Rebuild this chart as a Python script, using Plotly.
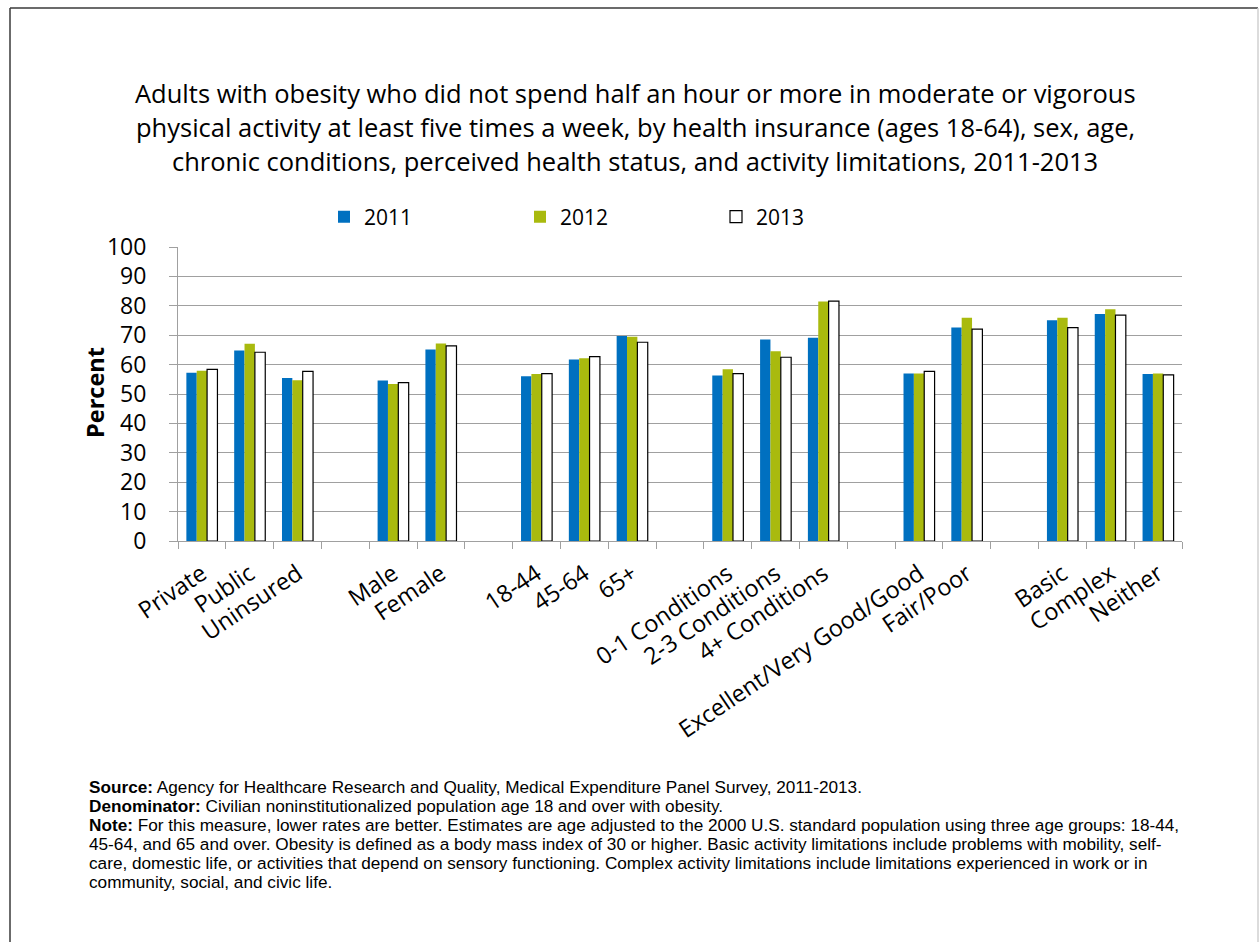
import plotly.graph_objects as go

# ---- data -------------------------------------------------------------
insurance = ["Private", "Public", "Uninsured"]
sex = ["Male", "Female"]
age = ["18-44", "45-64", "65+"]
conditions = ["0-1 Conditions", "2-3 Conditions", "4+ Conditions"]
health = ["Excellent/Very Good/Good", "Fair/Poor"]
limitations = ["Basic", "Complex", "Neither"]

years = ["2011", "2012", "2013"]
pct_2011 = [57.2, 64.8, 55.4, 54.6, 65.1, 56.0, 61.7, 69.7, 56.3, 68.5, 69.1, 57.0, 72.6, 75.1, 77.2, 56.8]
pct_2012 = [57.9, 67.1, 54.7, 53.4, 67.2, 56.8, 62.2, 69.5, 58.4, 64.5, 81.5, 57.0, 75.9, 75.9, 78.8, 57.0]
pct_2013 = [58.4, 64.2, 57.7, 53.9, 66.4, 56.9, 62.7, 67.6, 56.9, 62.5, 81.6, 57.7, 72.1, 72.6, 76.8, 56.5]

title_lines = [
    "Adults with obesity who did not spend half an hour or more in moderate or vigorous",
    "physical activity at least five times a week, by health insurance (ages 18-64), sex, age,",
    "chronic conditions, perceived health status, and activity limitations, 2011-2013",
]
footnotes = [
    "<b>Source:</b> Agency for Healthcare Research and Quality, Medical Expenditure Panel Survey, 2011-2013.",
    "<b>Denominator:</b> Civilian noninstitutionalized population age 18 and over with obesity.",
    "<b>Note:</b> For this measure, lower rates are better. Estimates are age adjusted to the 2000 U.S. standard population using three age groups: 18-44,",
    "45-64, and 65 and over. Obesity is defined as a body mass index of 30 or higher. Basic activity limitations include problems with mobility, self-",
    "care, domestic life, or activities that depend on sensory functioning. Complex activity limitations include limitations experienced in work or in",
    "community, social, and civic life.",
]

# ---- category axis with empty slots between groups ---------------------
groups = [insurance, sex, age, conditions, health, limitations]
categories = []
for i, g in enumerate(groups):
    if i:
        categories.append("\u200b" * i)  # blank separator slot
    categories.extend(g)
bar_cats = [c for g in groups for c in g]

# ---- canvas geometry ---------------------------------------------------
W, H = 1259, 942
L, R, T, B = 178, 77, 247, 401
PW, PH = W - L - R, H - T - B


def px_x(p):
    return (p - L) / PW


def px_y(p):
    return (H - B - p) / PH


colors = ["#0070C0", "#A9BA0E", "#FFFFFF"]
outlines = ["#0070C0", "#A9BA0E", "#000000"]
widths = [0, 0, 1.2]

fig = go.Figure()
for name, vals, c, oc, lw in zip(years, [pct_2011, pct_2012, pct_2013], colors, outlines, widths):
    fig.add_trace(go.Bar(
        x=bar_cats, y=vals, name=name,
        marker=dict(color=c, line=dict(color=oc, width=lw)),
    ))

grid = "#A0A0A0"
fig.update_layout(
    width=W, height=H,
    margin=dict(l=L, r=R, t=T, b=B),
    paper_bgcolor="white", plot_bgcolor="white",
    barmode="group", bargap=0.35, bargroupgap=0,
    showlegend=True,
    legend=dict(
        orientation="h", x=px_x(324), xanchor="left", y=px_y(217), yanchor="middle",
        entrywidth=151, entrywidthmode="pixels", itemwidth=30,
        font=dict(family="Open Sans", size=21, color="black"),
        bgcolor="rgba(0,0,0,0)",
    ),
    xaxis=dict(
        type="category", categoryorder="array", categoryarray=categories,
        range=[-0.5, len(categories) - 0.5],
        tickson="boundaries", ticks="outside", ticklen=7, tickcolor=grid,
        showline=True, linecolor=grid, linewidth=1, showgrid=False,
        tickangle=-34, ticklabelstandoff=9,
        tickfont=dict(family="Open Sans", size=23.5, color="black"),
    ),
    yaxis=dict(
        range=[0, 100], dtick=10, tick0=0,
        showgrid=True, gridcolor=grid, gridwidth=1,
        showline=True, linecolor=grid, linewidth=1,
        ticks="outside", ticklen=8, tickcolor=grid, ticklabelstandoff=18,
        tickfont=dict(family="Open Sans", size=23, color="black"),
        zeroline=False,
    ),
)

# title, one line per annotation
for i, line in enumerate(title_lines):
    fig.add_annotation(
        text=line, xref="paper", yref="paper", x=px_x(635), y=px_y(93 + 34 * i),
        xanchor="center", yanchor="middle", showarrow=False,
        font=dict(family="Open Sans", size=25.5, color="black"),
    )

# y axis title
fig.add_annotation(
    text="<b>Percent</b>", xref="paper", yref="paper", x=px_x(95), y=px_y(393),
    xanchor="center", yanchor="middle", textangle=-90, showarrow=False,
    font=dict(family="Open Sans", size=23.5, color="black"),
)

# footnotes
for i, line in enumerate(footnotes):
    fig.add_annotation(
        text=line, xref="paper", yref="paper", x=px_x(87), y=px_y(787 + 19 * i),
        xanchor="left", yanchor="middle", showarrow=False, align="left",
        font=dict(family="Liberation Sans", size=17.2, color="black"),
    )

# outer frame of the chart
frame = [
    ((10, 8), (10, 960), "#3A3A3A"),      # left
    ((10, 8), (1258, 8), "#3A3A3A"),      # top
    ((1258, 8), (1258, 960), "#D0D0D0"),  # right
]
for (ax0, ay0), (ax1, ay1), col in frame:
    fig.add_shape(
        type="line", xref="paper", yref="paper",
        x0=px_x(ax0), x1=px_x(ax1), y0=px_y(ay0), y1=px_y(ay1),
        line=dict(color=col, width=1.5), layer="below",
    )

fig.write_html("out.html")
